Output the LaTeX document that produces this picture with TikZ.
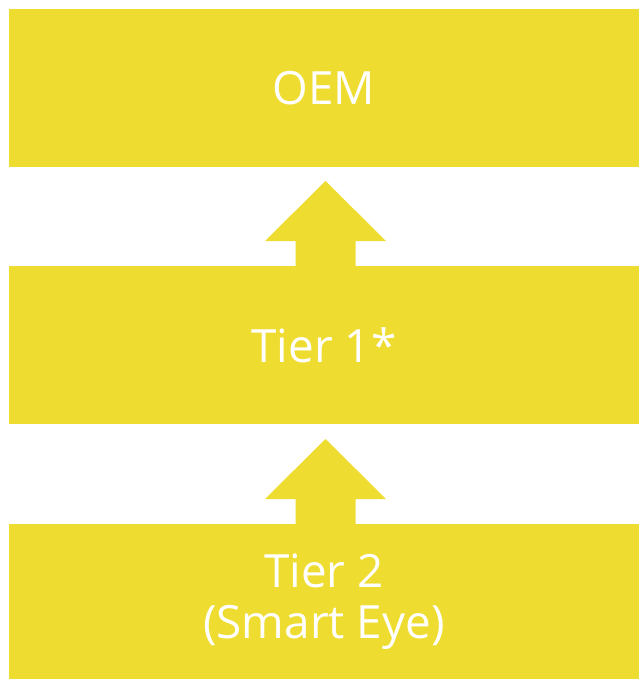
\documentclass[tikz,border=0pt]{standalone}
\usepackage{fontspec}
\setmainfont{Open Sans}
\definecolor{boxyellow}{RGB}{239,220,49}
\begin{document}
\begin{tikzpicture}[x=1bp,y=-1bp,
  tierbox/.style={fill=boxyellow,draw=none,inner sep=0pt,minimum width=630bp,text=white,align=center,font=\fontsize{46}{51}\selectfont},
  uparrow/.style={fill=boxyellow,draw=none}]
\useasboundingbox (0,0) rectangle (639,679);
\node[tierbox,minimum height=158bp] (oem) at (324,88) {OEM};
\node[tierbox,minimum height=158bp] (t1) at (324,345) {Tier 1*};
\node[tierbox,minimum height=155bp] (t2) at (324,601.5) {Tier 2\\(Smart Eye)};
% arrow from Tier 1 up to OEM
\fill[uparrow] (295.5,266) -- (295.5,241) -- (265,241) -- (325.5,181) -- (386,241) -- (355.5,241) -- (355.5,266) -- cycle;
% arrow from Tier 2 up to Tier 1
\fill[uparrow] (295.5,524) -- (295.5,499) -- (265,499) -- (325.5,439) -- (386,499) -- (355.5,499) -- (355.5,524) -- cycle;
\end{tikzpicture}
\end{document}
